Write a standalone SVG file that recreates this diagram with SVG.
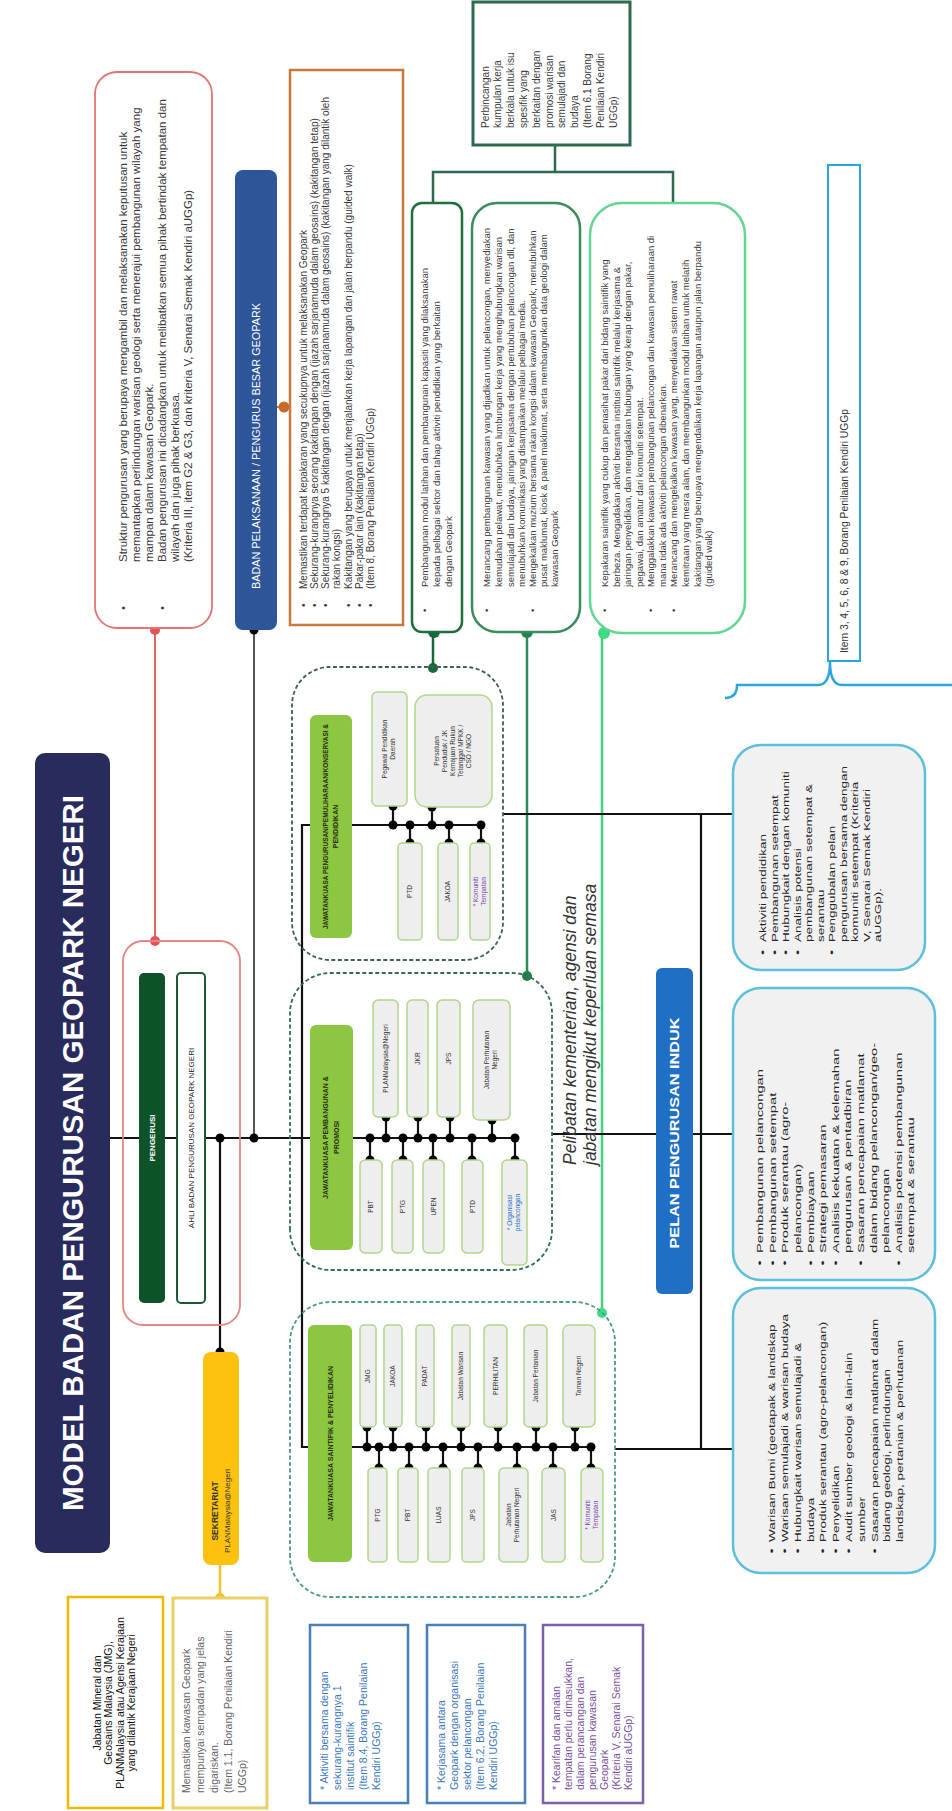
<svg xmlns="http://www.w3.org/2000/svg" width="952" height="1811" viewBox="0 0 952 1811">
<style>
text { font-family: "Liberation Sans", Arial, sans-serif; }
.t { fill:#3a3a3a; }
.f115 { font-size:11.5px; }
.f10 { font-size:10px; }
.f105 { font-size:10.5px; }
.f95 { font-size:9.5px; }
.lbl { font-size:6.5px; fill:#333; text-anchor:middle; }
.pur { fill:#7a3fb0; }
.blu { fill:#1f6fc6; }
.sub { fill:#eeeeee; stroke:#b2d68a; stroke-width:1.5; }
.jk { fill:#8dc641; }
.jkt { font-size:7px; font-weight:bold; fill:#1f2d10; text-anchor:middle; }
.ln { stroke:#111; stroke-width:2.2; fill:none; }
.d { fill:#000; }
.dash { fill:none; stroke-width:1.8; stroke-dasharray:4 2.5; }
.ppi { fill:#f1f1f1; stroke:#5cbfdc; stroke-width:2.5; }
.pt { font-size:9.5px; fill:#262626; }
</style>
<rect width="952" height="1811" fill="#fff"/>
<g transform="translate(0,1811) rotate(-90)">

<g id="connectors">
  <path class="ln" d="M673,110 L673,310"/>
  <path class="ln" d="M986,310 L986,302 L364,302 L364,308"/>
  <path d="M1181,155 L870,155" stroke="#e06666" stroke-width="2" fill="none"/>
  <path d="M1181,254 L673,254" stroke="#555" stroke-width="2" fill="none"/>
  <path class="ln" d="M673,220 L459,220"/>
  <path d="M246,220 L213,220" stroke="#f2c12e" stroke-width="2.5" fill="none"/>
  <path d="M1404,277 L1404,290" stroke="#c5783b" stroke-width="2" fill="none"/>
  <path d="M1179,433 L1143,433" stroke="#17683a" stroke-width="2.5" fill="none"/>
  <path d="M1179,527 L835,527" stroke="#2e8b57" stroke-width="2.5" fill="none"/>
  <path d="M1178,602 L498,602" stroke="#43d17f" stroke-width="2.5" fill="none"/>
  <path d="M1666,555 L1639,555 M1608,433 L1639,433 L1639,673 L1608,673" stroke="#2e6b4e" stroke-width="2.5" fill="none"/>
  <path class="ln" d="M986,352 L986,482 M986,393 L1005,393 M986,432 L1004,432 M986,410 L968,410 M986,449 L968,449 M986,481 L968,481"/>
  <path class="ln" d="M673,353 L673,517 M673,386 L694,386 M673,418 L694,418 M673,450 L694,450 M673,492 L691,492 M673,370 L651,370 M673,403 L651,403 M673,433 L651,433 M673,472 L651,472 M673,515 L651,515"/>
  <path class="ln" d="M364,352 L364,592 M364,367 L384,367 M364,393 L384,393 M364,426 L384,426 M364,461 L384,461 M364,498 L384,498 M364,536 L384,536 M364,575 L384,575 M364,379 L343,379 M364,409 L343,409 M364,443 L343,443 M364,478 L343,478 M364,517 L343,517 M364,553 L343,553 M364,591 L343,591"/>
  <path class="ln" d="M997,503 L997,733 M997,701 L362,701 M677,552 L677,656 M677,693 L677,733 M362,615 L362,733"/>
  <path d="M1113,725 Q1113,737 1126,737 L1126,818 Q1126,830 1149,830 Q1126,830 1126,842 L1126,952" stroke="#29a6df" stroke-width="2.5" fill="none"/>
  <g class="d">
    <circle cx="673" cy="220" r="4.5"/><circle cx="673" cy="254" r="4.5"/><circle cx="459" cy="220" r="4.5"/><circle cx="1181" cy="254" r="4.5"/>
    <circle cx="986" cy="393" r="4.5"/><circle cx="986" cy="432" r="4.5"/><circle cx="986" cy="410" r="4.5"/><circle cx="986" cy="449" r="4.5"/><circle cx="986" cy="481" r="4.5"/>
    <circle cx="1005" cy="393" r="4.5"/><circle cx="1004" cy="432" r="4.5"/><circle cx="968" cy="410" r="4.5"/><circle cx="968" cy="449" r="4.5"/><circle cx="968" cy="481" r="4.5"/>
    <circle cx="673" cy="386" r="4.5"/><circle cx="673" cy="418" r="4.5"/><circle cx="673" cy="450" r="4.5"/><circle cx="673" cy="492" r="4.5"/><circle cx="673" cy="370" r="4.5"/><circle cx="673" cy="403" r="4.5"/><circle cx="673" cy="433" r="4.5"/><circle cx="673" cy="472" r="4.5"/><circle cx="673" cy="515" r="4.5"/>
    <circle cx="694" cy="386" r="4.5"/><circle cx="694" cy="418" r="4.5"/><circle cx="694" cy="450" r="4.5"/><circle cx="691" cy="492" r="4.5"/><circle cx="651" cy="370" r="4.5"/><circle cx="651" cy="403" r="4.5"/><circle cx="651" cy="433" r="4.5"/><circle cx="651" cy="472" r="4.5"/><circle cx="651" cy="515" r="4.5"/>
    <circle cx="364" cy="367" r="4.5"/><circle cx="364" cy="393" r="4.5"/><circle cx="364" cy="426" r="4.5"/><circle cx="364" cy="461" r="4.5"/><circle cx="364" cy="498" r="4.5"/><circle cx="364" cy="536" r="4.5"/><circle cx="364" cy="575" r="4.5"/>
    <circle cx="364" cy="379" r="4.5"/><circle cx="364" cy="409" r="4.5"/><circle cx="364" cy="443" r="4.5"/><circle cx="364" cy="478" r="4.5"/><circle cx="364" cy="517" r="4.5"/><circle cx="364" cy="553" r="4.5"/><circle cx="364" cy="591" r="4.5"/>
    <circle cx="384" cy="367" r="4.5"/><circle cx="384" cy="393" r="4.5"/><circle cx="384" cy="426" r="4.5"/><circle cx="384" cy="461" r="4.5"/><circle cx="384" cy="498" r="4.5"/><circle cx="384" cy="536" r="4.5"/><circle cx="384" cy="575" r="4.5"/>
    <circle cx="343" cy="379" r="4.5"/><circle cx="343" cy="409" r="4.5"/><circle cx="343" cy="443" r="4.5"/><circle cx="343" cy="478" r="4.5"/><circle cx="343" cy="517" r="4.5"/><circle cx="343" cy="553" r="4.5"/><circle cx="343" cy="591" r="4.5"/>
  </g>
  <circle cx="1181" cy="155" r="5" fill="#e05555"/><circle cx="870" cy="155" r="5" fill="#e05555"/>
  <circle cx="213" cy="220" r="5" fill="#f2c12e"/>
  <circle cx="1404" cy="284" r="5.5" fill="#c8692a"/>
  <circle cx="1179" cy="434" r="6" fill="#17683a"/><circle cx="1143" cy="433" r="5" fill="#17683a"/>
  <circle cx="1179" cy="527" r="6" fill="#23804a"/><circle cx="835" cy="527" r="5" fill="#23804a"/>
  <circle cx="1178" cy="604" r="6" fill="#3ddc84"/><circle cx="498" cy="602" r="5" fill="#3ddc84"/>
</g>

<g id="title">
  <rect x="258" y="35" width="800" height="75" rx="10" fill="#282b5c"/>
  <text x="658" y="83" font-size="30" font-weight="bold" fill="#fff" text-anchor="middle" textLength="716" lengthAdjust="spacingAndGlyphs">MODEL BADAN PENGURUSAN GEOPARK NEGERI</text>
</g>

<g id="note-struktur">
  <rect x="1183" y="95" width="556" height="117" rx="22" fill="#fff" stroke="#e57373" stroke-width="1.8"/>
  <g class="t f115">
    <text x="1201" y="127">•</text><text x="1201" y="166">•</text>
    <text x="1249" y="127">Struktur pengurusan yang berupaya mengambil dan melaksanakan keputusan untuk</text>
    <text x="1249" y="140">memantapkan perlindungan warisan geologi serta menerajui pembangunan wilayah yang</text>
    <text x="1249" y="153">mampan dalam kawasan Geopark.</text>
    <text x="1249" y="166">Badan pengurusan ini dicadangkan untuk melibatkan semua pihak bertindak tempatan dan</text>
    <text x="1249" y="179">wilayah dan juga pihak berkuasa.</text>
    <text x="1249" y="192">(Kriteria III, item G2 &amp; G3, dan kriteria V, Senarai Semak Kendiri aUGGp)</text>
  </g>
</g>

<g id="pengerusi">
  <rect x="486" y="123" width="384" height="117" rx="20" fill="none" stroke="#e98383" stroke-width="1.8"/>
  <rect x="508" y="139" width="330" height="26" rx="5" fill="#0e5229"/>
  <text x="673" y="155" font-size="8" font-weight="bold" fill="#fff" text-anchor="middle">PENGERUSI</text>
  <rect x="508" y="177" width="330" height="28" rx="4" fill="#fff" stroke="#1c5a34" stroke-width="2"/>
  <text x="673" y="194" font-size="8" fill="#222" text-anchor="middle">AHLI BADAN PENGURUSAN GEOPARK NEGERI</text>
</g>

<g id="sekretariat">
  <rect x="246" y="203" width="213" height="36" rx="8" fill="#fcc20f"/>
  <text x="300" y="218" font-size="8.5" font-weight="bold" fill="#333" text-anchor="middle">SEKRETARIAT</text>
  <text x="300" y="230" font-size="8" fill="#333" text-anchor="middle">PLANMalaysia@Negeri</text>
</g>

<g id="agensi">
  <rect x="3" y="68" width="211" height="95" fill="#fff" stroke="#f2b800" stroke-width="2.5"/>
  <g class="f105" fill="#111" text-anchor="middle">
    <text x="108" y="100.7">Jabatan Mineral dan</text>
    <text x="108" y="112.2">Geosains Malaysia (JMG),</text>
    <text x="108" y="123.7">PLANMalaysia atau Agensi Kerajaan</text>
    <text x="108" y="135.2">yang dilantik Kerajaan Negeri</text>
  </g>
</g>

<g id="note-sempadan">
  <rect x="3" y="173" width="210" height="94" fill="#fff" stroke="#ead067" stroke-width="3"/>
  <g class="f105" fill="#666">
    <text x="18" y="189.7">Memastikan kawasan Geopark</text>
    <text x="18" y="203.7">mempunyai sempadan yang jelas</text>
    <text x="18" y="217.7">digariskan.</text>
    <text x="18" y="231.7">(Item 1.1, Borang Penilaian Kendiri</text>
    <text x="18" y="245.7">UGGp)</text>
  </g>
</g>

<g id="note-saintifik">
  <rect x="8" y="310" width="178" height="98" fill="#fff" stroke="#4a7fb5" stroke-width="2.5"/>
  <g class="f105" fill="#3b78c2">
    <text x="21" y="327.7">* Aktiviti bersama dengan</text>
    <text x="21" y="340.7">sekurang-kurangnya 1</text>
    <text x="21" y="353.7">institut saintifik</text>
    <text x="21" y="366.7">(Item 8.4, Borang Penilaian</text>
    <text x="21" y="379.7">Kendiri UGGp)</text>
  </g>
</g>

<g id="note-pelancongan">
  <rect x="8" y="427" width="178" height="98" fill="#fff" stroke="#4a7fb5" stroke-width="2.5"/>
  <g class="f105" fill="#3b78c2">
    <text x="21" y="444.7">* Kerjasama antara</text>
    <text x="21" y="457.7">Geopark dengan organisasi</text>
    <text x="21" y="470.7">sektor pelancongan</text>
    <text x="21" y="483.7">(Item 6.2, Borang Penilaian</text>
    <text x="21" y="496.7">Kendiri UGGp)</text>
  </g>
</g>

<g id="note-kearifan">
  <rect x="8" y="543" width="178" height="100" fill="#fff" stroke="#7d5ea8" stroke-width="2.5"/>
  <g class="f105" fill="#7a52a3">
    <text x="21" y="559.7">* Kearifan dan amalan</text>
    <text x="21" y="571.7">tempatan perlu dimasukkan,</text>
    <text x="21" y="583.7">dalam perancangan dan</text>
    <text x="21" y="595.7">pengurusan kawasan</text>
    <text x="21" y="607.7">Geopark</text>
    <text x="21" y="619.7">(Kriteria V, Senarai Semak</text>
    <text x="21" y="631.7">Kendiri aUGGp)</text>
  </g>
</g>

<g id="badan-pelaksanaan">
  <rect x="1181" y="235" width="460" height="42" rx="8" fill="#2e5597"/>
  <text x="1365" y="259.5" font-size="10" fill="#fff" text-anchor="middle" textLength="286" lengthAdjust="spacingAndGlyphs">BADAN PELAKSANAAN / PENGURUS BESAR GEOPARK</text>
</g>

<g id="note-kepakaran">
  <rect x="1186" y="290" width="555" height="113" fill="#fff" stroke="#c8793c" stroke-width="2.5"/>
  <g class="t f10">
    <text x="1204" y="306.5">•</text><text x="1204" y="317.5">•</text><text x="1204" y="328.5">•</text><text x="1204" y="351.5">•</text><text x="1204" y="362.5">•</text><text x="1204" y="373.5">•</text>
    <text x="1222" y="306.5">Memastikan terdapat kepakaran yang secukupnya untuk melaksanakan Geopark</text>
    <text x="1222" y="317.5">Sekurang-kurangnya seorang kakitangan dengan (ijazah sarjanamuda dalam geosains) (kakitangan tetap)</text>
    <text x="1222" y="328.5">Sekurang-kurangnya 5 kakitangan dengan (ijazah sarjanamuda dalam geosains) (kakitangan yang dilantik oleh</text>
    <text x="1222" y="339.5">rakan kongsi)</text>
    <text x="1222" y="351.5">Kakitangan yang berupaya untuk menjalankan kerja lapangan dan jalan berpandu (guided walk)</text>
    <text x="1222" y="362.5">Pakar-pakar lain (kakitangan tetap)</text>
    <text x="1222" y="373.5">(Item 8, Borang Penilaian Kendiri UGGp)</text>
  </g>
</g>

<g id="note-latihan">
  <rect x="1179" y="412" width="429" height="50" rx="10" fill="#fff" stroke="#1f6e3d" stroke-width="2.5"/>
  <g class="t f95">
    <text x="1199" y="428">•</text>
    <text x="1224" y="428">Pembangunan modul latihan dan pembangunan kapasiti yang dilaksanakan</text>
    <text x="1224" y="440">kepada pelbagai sektor dan tahap aktiviti pendidikan yang berkaitan</text>
    <text x="1224" y="452">dengan Geopark</text>
  </g>
</g>

<g id="note-pembangunan">
  <rect x="1179" y="472" width="429" height="108" rx="25" fill="#fff" stroke="#3b8c5d" stroke-width="2.5"/>
  <g class="t f95">
    <text x="1199" y="490">•</text><text x="1199" y="536">•</text>
    <text x="1224" y="490">Merancang pembangunan kawasan yang dijadikan untuk pelancongan, menyediakan</text>
    <text x="1224" y="502">kemudahan pelawat, menubuhkan lumbungan kerja yang menghubungkan warisan</text>
    <text x="1224" y="514">semulajadi dan budaya, jaringan kerjasama dengan pertubuhan pelancongan dll, dan</text>
    <text x="1224" y="525">menubuhkan komunikasi yang disampaikan melalui pelbagai media.</text>
    <text x="1224" y="536">Mengekalkan muzium bersama rakan kongsi dalam kawasan Geopark, menubuhkan</text>
    <text x="1224" y="547">pusat maklumat, kiosk &amp; panel maklumat, serta membangunkan data geologi dalam</text>
    <text x="1224" y="558">kawasan Geopark</text>
  </g>
</g>

<g id="note-penyelidikan">
  <rect x="1178" y="590" width="430" height="155" rx="32" fill="#fff" stroke="#62d690" stroke-width="2.5"/>
  <g class="t f95">
    <text x="1199" y="608.3">•</text><text x="1199" y="654.3">•</text><text x="1199" y="677.3">•</text>
    <text x="1224" y="608.3">Kepakaran saintifik yang cukup dan penasihat pakar dari bidang saintifik yang</text>
    <text x="1224" y="620.3">berbeza. Mengadakan aktiviti bersama institusi saintifik melalui kerjasama &amp;</text>
    <text x="1224" y="631.3">jaringan penyelidikan, dan mengadakan hubungan yang kerap dengan pakar,</text>
    <text x="1224" y="643.3">pegawai, dan amatur dari komuniti setempat.</text>
    <text x="1224" y="654.3">Menggalakkan kawasan pembangunan pelancongan dan kawasan pemuliharaan di</text>
    <text x="1224" y="666.3">mana tidak ada aktiviti pelancongan dibenarkan.</text>
    <text x="1224" y="677.3">Merancang dan mengekalkan kawasan yang, menyediakan sistem rawat</text>
    <text x="1224" y="689.3">kemitraan yang mesra alam, dan membangunkan modul latihan untuk melatih</text>
    <text x="1224" y="701.3">kakitangan yang berupaya mengendalikan kerja lapangan ataupun jalan berpandu</text>
    <text x="1224" y="712.3">(guided walk)</text>
  </g>
</g>

<g id="note-perbincangan">
  <rect x="1666" y="473" width="143" height="157" fill="#fff" stroke="#2e6b4e" stroke-width="3"/>
  <g class="t f10">
    <text x="1683" y="488.5">Perbincangan</text>
    <text x="1683" y="501.3">kumpulan kerja</text>
    <text x="1683" y="514.1">berkala untuk isu</text>
    <text x="1683" y="526.9">spesifik yang</text>
    <text x="1683" y="539.7">berkaitan dengan</text>
    <text x="1683" y="552.5">promosi warisan</text>
    <text x="1683" y="565.3">semulajadi dan</text>
    <text x="1683" y="578.1">budaya</text>
    <text x="1683" y="590.9">(Item 6.1 Borang</text>
    <text x="1683" y="603.7">Penilaian Kendiri</text>
    <text x="1683" y="616.5">UGGp)</text>
  </g>
</g>

<g id="jk-pengurusan">
  <rect class="dash" x="851" y="292" width="293" height="211" rx="38" stroke="#3d5f55"/>
  <rect class="jk" x="873" y="310" width="223" height="42" rx="6"/>
  <text class="jkt" x="984.5" y="328" textLength="205" lengthAdjust="spacingAndGlyphs">JAWATANKUASA PENGURUSAN/PEMULIHARAAN/KONSERVASI &amp;</text>
  <text class="jkt" x="984.5" y="338">PENDIDIKAN</text>
  <rect class="sub" x="1005" y="372" width="114" height="35" rx="5"/>
  <rect class="sub" x="1004" y="415" width="112" height="77" rx="12"/>
  <rect class="sub" x="871" y="398" width="97" height="24" rx="4"/>
  <rect class="sub" x="871" y="438" width="97" height="20" rx="4"/>
  <rect class="sub" x="871" y="470" width="97" height="20" rx="4"/>
  <text class="lbl" x="1062" y="387">Pegawai Pendidikan</text><text class="lbl" x="1062" y="395">Daerah</text>
  <text class="lbl" x="1060" y="439">Persatuan</text><text class="lbl" x="1060" y="447">Penduduk / JK</text><text class="lbl" x="1060" y="455">Kemajuan Rukun</text><text class="lbl" x="1060" y="463">Tetangga/ MPKK /</text><text class="lbl" x="1060" y="471">CSO / NGO</text>
  <text class="lbl" x="919.5" y="412.3">PTD</text>
  <text class="lbl" x="919.5" y="450.3">JAKOA</text>
  <text class="lbl pur" x="919.5" y="478">* Komuniti</text><text class="lbl pur" x="919.5" y="486">Tempatan</text>
</g>

<g id="jk-pembangunan">
  <rect class="dash" x="541" y="290" width="297" height="262" rx="40" stroke="#2f6e55"/>
  <rect class="jk" x="561" y="310" width="225" height="43" rx="6"/>
  <text class="jkt" x="673.5" y="328">JAWATANKUASA PEMBANGUNAN &amp;</text>
  <text class="jkt" x="673.5" y="339">PROMOSI</text>
  <rect class="sub" x="694" y="373" width="117" height="25" rx="5"/>
  <rect class="sub" x="694" y="407" width="117" height="21" rx="5"/>
  <rect class="sub" x="694" y="437" width="117" height="23" rx="5"/>
  <rect class="sub" x="691" y="473" width="120" height="37" rx="6"/>
  <rect class="sub" x="558" y="360" width="93" height="22" rx="5"/>
  <rect class="sub" x="558" y="392" width="93" height="21" rx="5"/>
  <rect class="sub" x="558" y="423" width="93" height="21" rx="5"/>
  <rect class="sub" x="558" y="462" width="93" height="21" rx="5"/>
  <rect class="sub" x="546" y="502" width="105" height="25" rx="5"/>
  <text class="lbl" x="752.5" y="387.8">PLANMalaysia@Negeri</text>
  <text class="lbl" x="752.5" y="419.8">JKR</text>
  <text class="lbl" x="752.5" y="450.8">JPS</text>
  <text class="lbl" x="751" y="489">Jabatan Perhutanan</text><text class="lbl" x="751" y="497">Negeri</text>
  <text class="lbl" x="604.5" y="373.3">PBT</text>
  <text class="lbl" x="604.5" y="404.8">PTG</text>
  <text class="lbl" x="604.5" y="435.8">UPEN</text>
  <text class="lbl" x="604.5" y="474.8">PTD</text>
  <text class="lbl blu" x="598.5" y="512">* Organisasi</text><text class="lbl blu" x="598.5" y="520">pelancongan</text>
</g>

<g id="jk-saintifik">
  <rect class="dash" x="214" y="290" width="295" height="325" rx="40" stroke="#4a9a8a"/>
  <rect class="jk" x="249" y="308" width="237" height="44" rx="6"/>
  <text class="jkt" x="367.5" y="333">JAWATANKUASA SAINTIFIK &amp; PENYELIDIKAN</text>
  <rect class="sub" x="384" y="360" width="102" height="16" rx="4"/>
  <rect class="sub" x="384" y="384" width="102" height="18" rx="4"/>
  <rect class="sub" x="384" y="416" width="102" height="18" rx="4"/>
  <rect class="sub" x="384" y="452" width="102" height="18" rx="4"/>
  <rect class="sub" x="384" y="484" width="102" height="23" rx="5"/>
  <rect class="sub" x="384" y="524" width="102" height="23" rx="5"/>
  <rect class="sub" x="384" y="563" width="102" height="32" rx="6"/>
  <rect class="sub" x="249" y="368" width="94" height="19" rx="4"/>
  <rect class="sub" x="249" y="398" width="94" height="20" rx="4"/>
  <rect class="sub" x="249" y="428" width="94" height="22" rx="4"/>
  <rect class="sub" x="249" y="462" width="94" height="22" rx="4"/>
  <rect class="sub" x="249" y="499" width="94" height="29" rx="5"/>
  <rect class="sub" x="249" y="542" width="94" height="23" rx="5"/>
  <rect class="sub" x="249" y="581" width="94" height="22" rx="5"/>
  <text class="lbl" x="435" y="370.3">JMG</text>
  <text class="lbl" x="435" y="395.3">JAKOA</text>
  <text class="lbl" x="435" y="427.3">PADAT</text>
  <text class="lbl" x="435" y="463.3">Jabatan Warisan</text>
  <text class="lbl" x="435" y="497.8">PERHILITAN</text>
  <text class="lbl" x="435" y="537.8">Jabatan Pertanian</text>
  <text class="lbl" x="435" y="581.3">Taman Negeri</text>
  <text class="lbl" x="296" y="379.8">PTG</text>
  <text class="lbl" x="296" y="410.3">PBT</text>
  <text class="lbl" x="296" y="441.3">LUAS</text>
  <text class="lbl" x="296" y="475.3">JPS</text>
  <text class="lbl" x="296" y="511">Jabatan</text><text class="lbl" x="296" y="519">Perhutanan Negeri</text>
  <text class="lbl" x="296" y="555.8">JAS</text>
  <text class="lbl pur" x="296" y="590">* Komuniti</text><text class="lbl pur" x="296" y="598">Tempatan</text>
</g>

<g id="note-pelibatan">
  <text x="646" y="576" font-size="17.5" font-style="italic" fill="#333">Pelibatan kementerian, agensi dan</text>
  <text x="646" y="596" font-size="17.5" font-style="italic" fill="#333">jabatan mengikut keperluan semasa</text>
</g>

<g id="pelan-induk">
  <rect x="517" y="656" width="326" height="37" rx="6" fill="#1f6fc5"/>
  <text x="678" y="679" font-size="13" font-weight="bold" fill="#fff" text-anchor="middle" textLength="231" lengthAdjust="spacingAndGlyphs">PELAN PENGURUSAN INDUK</text>
</g>

<g id="ppi-a">
  <rect class="ppi" x="841" y="733" width="225" height="192" rx="28"/>
  <g class="pt" transform="translate(869,0) scale(1.42,1)">
    <text x="-9" y="766.3">•</text><text x="-9" y="777.8">•</text><text x="-9" y="789.3">•</text><text x="-9" y="800.8">•</text><text x="-9" y="835.3">•</text>
    <text x="0" y="766.3">Aktiviti pendidikan</text>
    <text x="0" y="777.8">Pembangunan setempat</text>
    <text x="0" y="789.3">Hubungkait dengan komuniti</text>
    <text x="0" y="800.8">Analisis potensi</text>
    <text x="0" y="812.3">pembangunan setempat &amp;</text>
    <text x="0" y="823.8">serantau</text>
    <text x="0" y="835.3">Penggubalan pelan</text>
    <text x="0" y="846.8">pengurusan bersama dengan</text>
    <text x="0" y="858.3">komuniti setempat (Kriteria</text>
    <text x="0" y="869.8">V, Senarai Semak Kendiri</text>
    <text x="0" y="881.3">aUGGp).</text>
  </g>
</g>

<g id="ppi-b">
  <rect class="ppi" x="531" y="733" width="292" height="202" rx="28"/>
  <g class="pt" transform="translate(558,0) scale(1.55,1)">
    <text x="-8" y="763.3">•</text><text x="-8" y="775.9">•</text><text x="-8" y="788.5">•</text><text x="-8" y="813.7">•</text><text x="-8" y="826.3">•</text><text x="-8" y="838.9">•</text><text x="-8" y="864.1">•</text><text x="-8" y="901.9">•</text>
    <text x="0" y="763.3">Pembangunan pelancongan</text>
    <text x="0" y="775.9">Pembangunan setempat</text>
    <text x="0" y="788.5">Produk serantau (agro-</text>
    <text x="0" y="801.1">pelancongan)</text>
    <text x="0" y="813.7">Pembiayaan</text>
    <text x="0" y="826.3">Strategi pemasaran</text>
    <text x="0" y="838.9">Analisis kekuatan &amp; kelemahan</text>
    <text x="0" y="851.5">pengurusan &amp; pentadbiran</text>
    <text x="0" y="864.1">Sasaran pencapaian matlamat</text>
    <text x="0" y="876.7">dalam bidang pelancongan/geo-</text>
    <text x="0" y="889.3">pelancongan</text>
    <text x="0" y="901.9">Analisis potensi pembangunan</text>
    <text x="0" y="914.5">setempat &amp; serantau</text>
  </g>
</g>

<g id="ppi-c">
  <rect class="ppi" x="238" y="733" width="285" height="202" rx="28"/>
  <g class="pt" transform="translate(269,0) scale(1.42,1)">
    <text x="-8" y="775.3">•</text><text x="-8" y="788.1">•</text><text x="-8" y="800.9">•</text><text x="-8" y="826.5">•</text><text x="-8" y="839.3">•</text><text x="-8" y="852.1">•</text><text x="-8" y="877.7">•</text>
    <text x="0" y="775.3">Warisan Bumi (geotapak &amp; landskap</text>
    <text x="0" y="788.1">Warisan semulajadi &amp; warisan budaya</text>
    <text x="0" y="800.9">Hubungkait warisan semulajadi &amp;</text>
    <text x="0" y="813.7">budaya</text>
    <text x="0" y="826.5">Produk serantau (agro-pelancongan)</text>
    <text x="0" y="839.3">Penyelidikan</text>
    <text x="0" y="852.1">Audit sumber geologi &amp; lain-lain</text>
    <text x="0" y="864.9">sumber</text>
    <text x="0" y="877.7">Sasaran pencapaian matlamat dalam</text>
    <text x="0" y="890.5">bidang geologi, perlindungan</text>
    <text x="0" y="903.3">landskap, pertanian &amp; perhutanan</text>
  </g>
</g>

<g id="item-borang">
  <rect x="1150" y="828" width="496" height="32" fill="#fff" stroke="#2aa6de" stroke-width="2"/>
  <text x="1158" y="848" font-size="10" fill="#333" textLength="244" lengthAdjust="spacingAndGlyphs">Item 3, 4, 5, 6, 8 &amp; 9, Borang Penilaian Kendiri UGGp</text>
</g>

</g>
</svg>
